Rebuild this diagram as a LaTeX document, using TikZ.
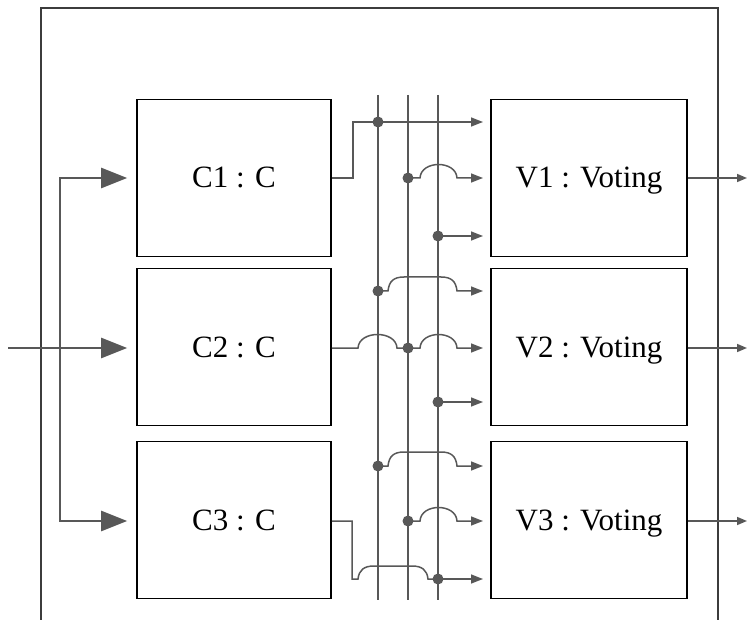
\documentclass[tikz,border=0pt]{standalone}
\usepackage{fontspec}
\setmainfont{Liberation Serif}
\usetikzlibrary{arrows.meta}
\definecolor{wirec}{RGB}{88,88,88}
\definecolor{framec}{RGB}{60,60,60}
\begin{document}
\begin{tikzpicture}[x=1pt,y=-1pt,
  unit/.style={draw=black, line width=1.6pt, minimum height=157pt,
    inner sep=0pt, text height=24pt, text depth=4pt,
    font=\fontsize{31}{31}\selectfont},
  cunit/.style={unit, minimum width=194pt},
  vunit/.style={unit, minimum width=196pt},
  wire/.style={draw=wirec, line width=1.5pt},
  sig/.style={wire, -{Triangle[length=12pt,width=9pt]}},
  outsig/.style={wire, -{Triangle[length=10pt,width=8pt]}},
  feed/.style={draw=wirec, line width=2.6pt, line join=miter,
    -{Triangle[length=26pt,width=20pt]}},
  tap/.style={circle, fill=wirec, inner sep=0pt, minimum size=11pt},
  busline/.style={draw=wirec, line width=1.5pt},
  frame/.style={draw=framec, line width=1.8pt},
]
\useasboundingbox (0,0) rectangle (747,620);

% enclosing frame, open at the bottom
\coordinate (fl) at (41,620);
\coordinate (ftl) at (41,8);
\coordinate (ftr) at (718,8);
\coordinate (fr) at (718,620);
\draw[frame] (fl) -- (ftl) -- (ftr) -- (fr);

% components and voters
\node[cunit] (C1) at (234,178) {C1 : C};
\node[cunit] (C2) at (234,347) {C2 : C};
\node[cunit] (C3) at (234,520) {C3 : C};
\node[vunit] (V1) at (589,178) {V1 : Voting};
\node[vunit] (V2) at (589,347) {V2 : Voting};
\node[vunit] (V3) at (589,520) {V3 : Voting};

% three vertical bus lines
\coordinate (b1t) at (378,95);  \coordinate (b1b) at (378,600);
\coordinate (b2t) at (408,95);  \coordinate (b2b) at (408,600);
\coordinate (b3t) at (438,95);  \coordinate (b3b) at (438,600);
\draw[busline] (b1t) -- (b1b);
\draw[busline] (b2t) -- (b2b);
\draw[busline] (b3t) -- (b3b);

% taps on the buses
\node[tap] (t11) at (378,122) {};
\node[tap] (t12) at (408,178) {};
\node[tap] (t13) at (438,236) {};
\node[tap] (t21) at (378,291) {};
\node[tap] (t22) at (408,348) {};
\node[tap] (t23) at (438,402) {};
\node[tap] (t31) at (378,466) {};
\node[tap] (t32) at (408,521) {};
\node[tap] (t33) at (438,579) {};

% voter input ends
\coordinate (e11) at (483,122);
\coordinate (e12) at (483,178);
\coordinate (e13) at (483,236);
\coordinate (e21) at (483,291);
\coordinate (e22) at (483,348);
\coordinate (e23) at (483,402);
\coordinate (e31) at (483,466);
\coordinate (e32) at (483,521);
\coordinate (e33) at (483,579);

% component outputs onto the buses
\draw[wire] (C1.east) -- (353,178) -- (353,122) -- (t11.center);
\draw[wire] (C2.east |- t22) -- (358,348) .. controls (359,330) and (396,330) .. (397,348) -- (t22.center);
\draw[wire] (C3.east |- t32) -- (352,521) -- (352,579) -- (358,579)
  .. controls (359,570) and (364,566) .. (374,566) -- (412,566)
  .. controls (422,566) and (427,570) .. (428,579) -- (t33.center);

% bus taps into the voters
\draw[sig] (t11.center) -- (e11);
\draw[sig] (t12.center) -- (420,178) .. controls (421,160) and (456,160) .. (457,178) -- (e12);
\draw[sig] (t13.center) -- (e13);
\draw[sig] (t21.center) -- (388,291) .. controls (389,281) and (394,277) .. (404,277) -- (441,277)
  .. controls (451,277) and (456,281) .. (457,291) -- (e21);
\draw[sig] (t22.center) -- (420,348) .. controls (421,330) and (456,330) .. (457,348) -- (e22);
\draw[sig] (t23.center) -- (e23);
\draw[sig] (t31.center) -- (388,466) .. controls (389,456) and (394,452) .. (404,452) -- (441,452)
  .. controls (451,452) and (456,456) .. (457,466) -- (e31);
\draw[sig] (t32.center) -- (420,521) .. controls (421,503) and (456,503) .. (457,521) -- (e32);
\draw[sig] (t33.center) -- (e33);

% voter outputs
\coordinate (o1) at (747,178);
\coordinate (o2) at (747,348);
\coordinate (o3) at (747,521);
\draw[outsig] (V1.east) -- (o1);
\draw[outsig] (V2.east |- o2) -- (o2);
\draw[outsig] (V3.east |- o3) -- (o3);

% input fan-out to the components
\coordinate (src) at (8,348);
\coordinate (jm) at (60,348);
\coordinate (jt) at (60,178);
\coordinate (jb) at (60,521);
\draw[wire] (src) -- (jm);
\draw[feed] (jm) -- ([xshift=-9pt]C2.west |- jm);
\draw[feed] (jb) -- (jt) -- ([xshift=-9pt]C1.west);
\draw[feed] (jt) -- (jb) -- ([xshift=-9pt]C3.west |- jb);
\end{tikzpicture}
\end{document}
